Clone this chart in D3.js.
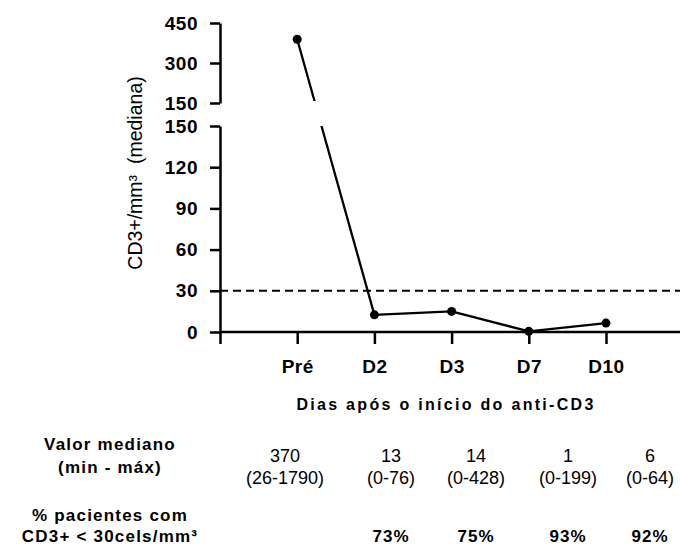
<!DOCTYPE html>
<meta charset="utf-8">
<script src="https://cdn.jsdelivr.net/npm/d3@7/dist/d3.min.js"></script>
<style>
body { margin: 0; background: #fff; }
text { font-family: "Liberation Sans", Arial, sans-serif; fill: #000; }
</style>
<body>
<script>
// data
var categories = ["Pré", "D2", "D3", "D7", "D10"];
var plotMedian = [389, 12.5, 15, 0.5, 6.5];
var medianText = ["370", "13", "14", "1", "6"];
var rangeText = ["(26-1790)", "(0-76)", "(0-428)", "(0-199)", "(0-64)"];
var pctText = ["", "73%", "75%", "93%", "92%"];
var upperTicks = [150, 300, 450];
var lowerTicks = [0, 30, 60, 90, 120, 150];
var threshold = 30;

var w = 680, h = 545;
var colX = [285, 391, 476, 568, 650];   // table column centres
var labelX = 110;

var svg = d3.select("body").append("svg")
	.attr("width", w)
	.attr("height", h);

var x = d3.scaleLinear().domain([-1, 4]).range([220, 606]);
var yLow = d3.scaleLinear().domain([0, 150]).range([332, 126]);
var yHigh = d3.scaleLinear().domain([150, 450]).range([103, 23]);
function yPos(v) { return v > 150 ? yHigh(v) : yLow(v); }

function styleAxis(g) {
	g.selectAll("path, line").attr("stroke", "#000").attr("stroke-width", 2.5);
	g.selectAll("text")
		.style("font-family", "'Liberation Sans', Arial, sans-serif")
		.style("font-size", "19px")
		.style("font-weight", "bold")
		.style("letter-spacing", "0.5px")
		.attr("fill", "#000");
}

// upper (broken) y segment
var gHigh = svg.append("g")
	.attr("transform", "translate(220,0)")
	.call(d3.axisLeft(yHigh).tickValues(upperTicks).tickSize(10).tickSizeOuter(0).tickPadding(12));
styleAxis(gHigh);

// lower y segment
var gLow = svg.append("g")
	.attr("transform", "translate(220,0)")
	.call(d3.axisLeft(yLow).tickValues(lowerTicks).tickSize(10).tickSizeOuter(0).tickPadding(12));
styleAxis(gLow);

// x axis
var gx = svg.append("g")
	.attr("transform", "translate(0," + yLow(0) + ")")
	.call(d3.axisBottom(x).tickValues([-1, 0, 1, 2, 3, 4])
		.tickFormat(function(i) { return i < 0 ? "" : categories[i]; })
		.tickSize(12).tickSizeOuter(0).tickPadding(16));
gx.select(".domain").attr("d", "M" + x(-1) + ",0H" + w);
styleAxis(gx);

// threshold line
svg.append("line")
	.attr("x1", x(-1)).attr("x2", w)
	.attr("y1", yLow(threshold)).attr("y2", yLow(threshold))
	.attr("stroke", "#000")
	.attr("stroke-width", 2)
	.attr("stroke-dasharray", "8,5");

// clip for the break in the axis
var clip = svg.append("clipPath").attr("id", "brk");
clip.append("rect").attr("x", 0).attr("y", 0).attr("width", w).attr("height", 101);
clip.append("rect").attr("x", 0).attr("y", 126).attr("width", w).attr("height", h - 126);

var line = d3.line()
	.x(function(d, i) { return x(i); })
	.y(function(d) { return yPos(d); });

svg.append("path")
	.datum(plotMedian)
	.attr("d", line)
	.attr("clip-path", "url(#brk)")
	.attr("fill", "none")
	.attr("stroke", "#000")
	.attr("stroke-width", 2.3);

svg.selectAll(".dot")
	.data(plotMedian)
	.enter()
	.append("circle")
	.attr("class", "dot")
	.attr("cx", function(d, i) { return x(i); })
	.attr("cy", function(d) { return yPos(d); })
	.attr("r", 4.5)
	.attr("fill", "#000");

// y label
svg.append("text")
	.attr("transform", "translate(135,173) rotate(-90)")
	.attr("text-anchor", "middle")
	.attr("dominant-baseline", "central")
	.style("font-size", "19.5px")
	.text("CD3+/mm³\u00a0 (mediana)");

// x title
svg.append("text")
	.attr("x", 446).attr("y", 410)
	.attr("text-anchor", "middle")
	.style("font-size", "16px")
	.style("font-weight", "bold")
	.style("letter-spacing", "2.3px")
	.text("Dias após o início do anti-CD3");

// table
function boldLabel(txt, y) {
	svg.append("text")
		.attr("x", labelX).attr("y", y)
		.attr("text-anchor", "middle")
		.style("font-size", "17px")
		.style("font-weight", "bold")
		.style("letter-spacing", "1.2px")
		.text(txt);
}
boldLabel("Valor mediano", 450);
boldLabel("(min - máx)", 473);
boldLabel("% pacientes com", 521);
boldLabel("CD3+ < 30cels/mm³", 542);

svg.selectAll(".med")
	.data(medianText)
	.enter()
	.append("text")
	.attr("class", "med")
	.attr("x", function(d, i) { return colX[i]; })
	.attr("y", 462)
	.attr("text-anchor", "middle")
	.style("font-size", "18px")
	.text(function(d) { return d; });

svg.selectAll(".rng")
	.data(rangeText)
	.enter()
	.append("text")
	.attr("class", "rng")
	.attr("x", function(d, i) { return colX[i]; })
	.attr("y", 484)
	.attr("text-anchor", "middle")
	.style("font-size", "18px")
	.text(function(d) { return d; });

svg.selectAll(".pct")
	.data(pctText)
	.enter()
	.append("text")
	.attr("class", "pct")
	.attr("x", function(d, i) { return colX[i]; })
	.attr("y", 542)
	.attr("text-anchor", "middle")
	.style("font-size", "17px")
	.style("font-weight", "bold")
	.style("letter-spacing", "1px")
	.text(function(d) { return d; });
</script>
</body>
